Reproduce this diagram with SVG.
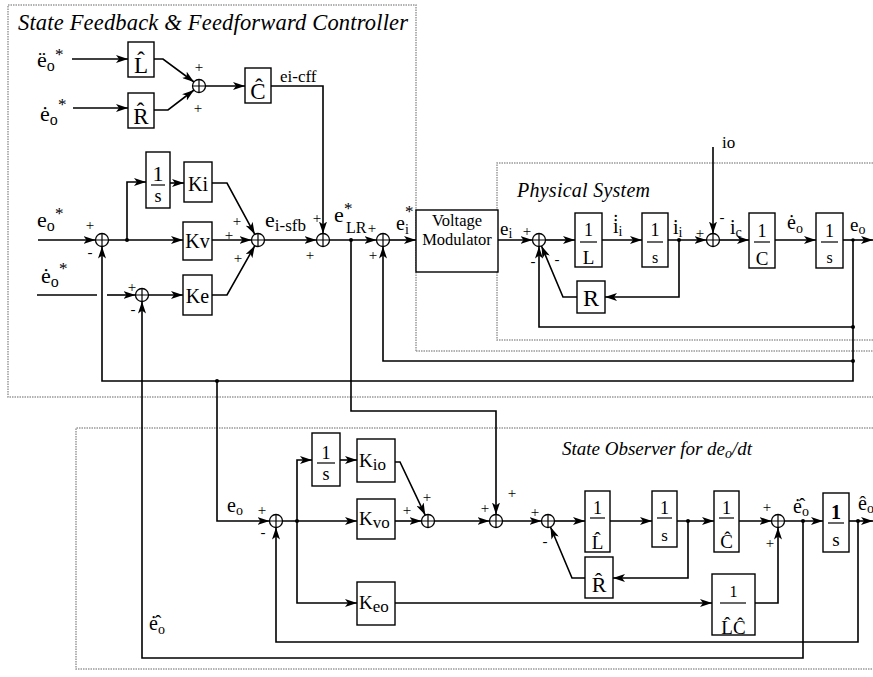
<svg xmlns="http://www.w3.org/2000/svg" width="873" height="677" viewBox="0 0 873 677">
<defs>
<marker id="ah" viewBox="0 0 12 8" refX="12" refY="4" markerWidth="12" markerHeight="8" markerUnits="userSpaceOnUse" orient="auto"><path d="M0,0 L12,4 L0,8 L3,4 z" fill="#000"/></marker>
</defs>
<style>
.t{font-family:"Liberation Serif","Times New Roman",serif;fill:#000}
.it{font-style:italic}
.m{text-anchor:middle}
.ln{fill:none;stroke:#000;stroke-width:1.6}
.ar{marker-end:url(#ah)}
.bx{fill:#fff;stroke:#000;stroke-width:1.4}
.sj circle{fill:#fff;stroke:#000;stroke-width:1.3}
.sj path{stroke:#000;stroke-width:1.2;fill:none}
.fr{fill:none;stroke:#999;stroke-width:1.5;stroke-dasharray:1.5 1}
.dt{fill:#000}
.pm{font-family:"Liberation Serif",serif;font-size:15px;text-anchor:middle;fill:#000}
.fb{stroke:#000;stroke-width:1.2}
</style>
<rect width="873" height="677" fill="#fff"/>

<g id="frames">
<path class="fr" d="M416,351 V5 H8 V397 H873 M416,351 H873"/>
<path class="fr" d="M873,163 H497 V340 H873"/>
<path class="fr" d="M873,428 H76 V669 H873"/>
<text class="t it" x="18" y="30" font-size="22.5" textLength="390">State Feedback &amp; Feedforward Controller</text>
<text class="t it" x="517" y="197" font-size="20" textLength="133">Physical System</text>
<text class="t it" x="562" y="455" font-size="19">State Observer for de<tspan font-size="14" dy="3">o</tspan><tspan dy="-3">/dt</tspan></text>
</g>

<g id="connectors" class="ln">
<path class="ar" d="M72,59 H128"/>
<path class="ar" d="M73,108 H128"/>
<path class="ar" d="M154,59 H163 L194,82"/>
<path class="ar" d="M154,110 H168 L194,90"/>
<path class="ar" d="M205.5,86 H245"/>
<path class="ar" d="M271,86 H323 V233.5"/>
<path class="ar" d="M38,240 H95.5"/>
<path class="ar" d="M108.5,240 H183"/>
<path class="ar" d="M127,240 V182 H146"/>
<path class="ar" d="M170,183 H184"/>
<path class="ar" d="M212,183 H227 L254.8,234.3"/>
<path class="ar" d="M212,240 H251.5"/>
<path class="ar" d="M212,295 H227 L254.8,245.7"/>
<path d="M37,295 H97"/>
<path class="ar" d="M107,295 H135.5"/>
<path class="ar" d="M148.5,295 H183"/>
<path class="ar" d="M264.5,240 H316.5"/>
<path class="ar" d="M329.5,240 H376.5"/>
<path class="ar" d="M389.5,240 H416"/>
<path class="ar" d="M498,240 H532.5"/>
<path class="ar" d="M545.5,240 H575"/>
<path class="ar" d="M602,240 H642"/>
<path class="ar" d="M668,240 H706.5"/>
<path class="ar" d="M679,240 V297 H605"/>
<path class="ar" d="M577,297 H563 L541.5,246"/>
<path class="ar" d="M713,147 V233.5"/>
<path class="ar" d="M719.5,240 H749"/>
<path class="ar" d="M775,240 H816"/>
<path class="ar" d="M843,240 H873"/>
<path class="ar" d="M853,240 V381 H102 V246.5"/>
<path class="ar" d="M853,327 H539 V246.5"/>
<path class="ar" d="M853,361 H383 V246.5"/>
<path class="ar" d="M217,381 V521 H269.5"/>
<path class="ar" d="M351,240 V411 H496 V514.5"/>
<path class="ar" d="M803,521 V658 H142 V301.5"/>
<path class="ar" d="M282.5,521 H357"/>
<path class="ar" d="M297,521 V460 H312"/>
<path class="ar" d="M297,521 V603 H357"/>
<path class="ar" d="M340,460 H357"/>
<path class="ar" d="M395,462 H400 L425.2,515.1"/>
<path class="ar" d="M395,521 H421.5"/>
<path class="ar" d="M434.5,521 H489.5"/>
<path class="ar" d="M502.5,521 H541.5"/>
<path class="ar" d="M554.5,521 H585"/>
<path class="ar" d="M610,521 H652"/>
<path class="ar" d="M677,521 H714"/>
<path class="ar" d="M688,521 V578 H613"/>
<path class="ar" d="M585,578 H572 L550.5,527"/>
<path class="ar" d="M739,521 H771.5"/>
<path class="ar" d="M395,603 H712"/>
<path class="ar" d="M755,603 H778 V527.5"/>
<path class="ar" d="M784.5,521 H823"/>
<path class="ar" d="M849,521 H873"/>
<path class="ar" d="M858,521 V642 H276 V527.5"/>
</g>

<g id="junction-dots" class="dt">
<circle cx="127" cy="240" r="2"/><circle cx="351" cy="240" r="2"/><circle cx="679" cy="240" r="2"/>
<circle cx="853" cy="240" r="1.8"/><circle cx="853" cy="327" r="2"/><circle cx="853" cy="361" r="2"/>
<circle cx="217" cy="381" r="2"/><circle cx="297" cy="521" r="2"/><circle cx="688" cy="521" r="2"/>
<circle cx="803" cy="521" r="2"/><circle cx="858" cy="521" r="2"/>
</g>

<!-- Controller -->
<g id="in-eddot"><text class="t" x="37" y="67" font-size="22">ë<tspan font-size="16" y="71">o</tspan><tspan font-size="17" x="55" y="60">*</tspan></text></g>
<g id="in-edot1"><text class="t" x="40" y="121" font-size="22">ė<tspan font-size="16" y="125">o</tspan><tspan font-size="17" x="58" y="110">*</tspan></text></g>
<g id="box-Lhat"><rect class="bx" x="128" y="42" width="26" height="35"/><text class="t m" x="141" y="73" font-size="23">L̂</text></g>
<g id="box-Rhat"><rect class="bx" x="128" y="93" width="26" height="35"/><text class="t m" x="141" y="124" font-size="23">R̂</text></g>
<g id="sum-ff" class="sj"><circle cx="199" cy="86" r="6.5"/><path d="M192.5,86 H205.5 M199,79.5 V92.5"/><text class="pm" x="199" y="72">+</text><text class="pm" x="198" y="113">+</text></g>
<g id="box-Chat"><rect class="bx" x="245" y="68" width="26" height="35"/><text class="t m" x="258" y="99" font-size="23">Ĉ</text></g>
<g id="lbl-eicff"><text class="t" x="280" y="82" font-size="17">ei-cff</text></g>

<g id="in-eo"><text class="t" x="37" y="227" font-size="22">e<tspan font-size="16" y="231">o</tspan><tspan font-size="17" x="55" y="219">*</tspan></text></g>
<g id="sum-A" class="sj"><circle cx="102" cy="240" r="6.5"/><path d="M95.5,240 H108.5 M102,233.5 V246.5"/><text class="pm" x="90" y="230">+</text><text class="pm" x="90" y="257">-</text></g>
<g id="box-int1"><rect class="bx" x="146" y="152" width="24" height="56"/><text class="t m" x="158" y="181" font-size="22">1</text><path class="fb" d="M151,185 H165"/><text class="t m" x="158" y="202" font-size="18">s</text></g>
<g id="box-Ki"><rect class="bx" x="184" y="162" width="28" height="40"/><text class="t m" x="198" y="191" font-size="20">Ki</text></g>
<g id="box-Kv"><rect class="bx" x="183" y="222" width="29" height="38"/><text class="t m" x="197.5" y="248" font-size="20">Kv</text></g>
<g id="box-Ke"><rect class="bx" x="183" y="275" width="29" height="40"/><text class="t m" x="197.5" y="303" font-size="20">Ke</text></g>
<g id="in-edot2"><text class="t" x="41" y="283" font-size="22">ė<tspan font-size="16" y="287">o</tspan><tspan font-size="17" x="59" y="274">*</tspan></text></g>
<g id="sum-B" class="sj"><circle cx="142" cy="295" r="6.5"/><path d="M135.5,295 H148.5 M142,288.5 V301.5"/><text class="pm" x="132" y="292">+</text><text class="pm" x="133" y="314">-</text></g>
<g id="sum-sfb" class="sj"><circle cx="258" cy="240" r="6.5"/><path d="M251.5,240 H264.5 M258,233.5 V246.5"/><text class="pm" x="237" y="226">+</text><text class="pm" x="229" y="240">+</text><text class="pm" x="238" y="263">+</text></g>
<g id="lbl-eisfb"><text class="t" x="265" y="227" font-size="22">e<tspan font-size="17" y="231">i-sfb</tspan></text></g>
<g id="sum-C" class="sj"><circle cx="323" cy="240" r="6.5"/><path d="M316.5,240 H329.5 M323,233.5 V246.5"/><text class="pm" x="317" y="223">+</text><text class="pm" x="310" y="260">+</text></g>
<g id="lbl-eLR"><text class="t" x="334" y="222" font-size="22">e<tspan font-size="17" x="344" y="214">*</tspan><tspan font-size="16" x="346" y="233">LR</tspan></text></g>
<g id="sum-D" class="sj"><circle cx="383" cy="240" r="6.5"/><path d="M376.5,240 H389.5 M383,233.5 V246.5"/><text class="pm" x="372" y="233">+</text><text class="pm" x="373" y="260">+</text></g>
<g id="lbl-ei-star"><text class="t" x="396" y="230" font-size="20">e<tspan font-size="14" y="234">i</tspan><tspan font-size="17" x="405" y="217">*</tspan></text></g>
<g id="box-vm"><rect class="bx" x="416" y="210" width="82" height="62"/><text class="t m" x="457" y="226" font-size="16.5">Voltage</text><text class="t m" x="457" y="245" font-size="16.5">Modulator</text></g>

<!-- Physical -->
<g id="lbl-ei"><text class="t" x="500" y="235" font-size="19">e<tspan font-size="14" y="238">i</tspan></text></g>
<g id="sum-P1" class="sj"><circle cx="539" cy="240" r="6.5"/><path d="M532.5,240 H545.5 M539,233.5 V246.5"/><text class="pm" x="527" y="236">+</text><text class="pm" x="533" y="266">-</text><text class="pm" x="557" y="264">-</text></g>
<g id="box-1L"><rect class="bx" x="575" y="213" width="27" height="54"/><text class="t m" x="588.5" y="236" font-size="18">1</text><path class="fb" d="M580,242 H597"/><text class="t m" x="588.5" y="264" font-size="19">L</text></g>
<g id="lbl-iidot"><text class="t" x="613" y="233" font-size="20">i̇<tspan font-size="14" y="236">i</tspan></text></g>
<g id="box-1s-a"><rect class="bx" x="642" y="213" width="26" height="54"/><text class="t m" x="655" y="236" font-size="18">1</text><path class="fb" d="M647,242 H663"/><text class="t m" x="655" y="263" font-size="16">s</text></g>
<g id="lbl-ii"><text class="t" x="673" y="234" font-size="20">i<tspan font-size="14" y="237">i</tspan></text></g>
<g id="box-R"><rect class="bx" x="577" y="281" width="28" height="32"/><text class="t m" x="591" y="306" font-size="24">R</text></g>
<g id="lbl-io"><text class="t" x="722" y="148" font-size="17">io</text></g>
<g id="sum-P2" class="sj"><circle cx="713" cy="240" r="6.5"/><path d="M706.5,240 H719.5 M713,233.5 V246.5"/><text class="pm" x="700" y="238">+</text><text class="pm" x="722" y="222">-</text></g>
<g id="lbl-ic"><text class="t" x="730" y="234" font-size="20">i<tspan font-size="14" y="237">c</tspan></text></g>
<g id="box-1C"><rect class="bx" x="749" y="213" width="26" height="55"/><text class="t m" x="762" y="237" font-size="18">1</text><path class="fb" d="M754,242 H770"/><text class="t m" x="762" y="265" font-size="19">C</text></g>
<g id="lbl-eodot"><text class="t" x="787" y="229" font-size="20">ė<tspan font-size="14" y="233">o</tspan></text></g>
<g id="box-1s-b"><rect class="bx" x="816" y="213" width="27" height="55"/><text class="t m" x="829.5" y="237" font-size="18">1</text><path class="fb" d="M821,242 H838"/><text class="t m" x="829.5" y="263" font-size="16">s</text></g>
<g id="lbl-eo-out"><text class="t" x="850" y="231" font-size="19">e<tspan font-size="14" y="234">o</tspan></text></g>

<!-- Observer -->
<g id="lbl-eo-obs"><text class="t" x="227" y="512" font-size="20">e<tspan font-size="14" y="515">o</tspan></text></g>
<g id="sum-O1" class="sj"><circle cx="276" cy="521" r="6.5"/><path d="M269.5,521 H282.5 M276,514.5 V527.5"/><text class="pm" x="262" y="515">+</text><text class="pm" x="263" y="537">-</text></g>
<g id="box-1s-o"><rect class="bx" x="312" y="433" width="28" height="53"/><text class="t m" x="326" y="459" font-size="18">1</text><path class="fb" d="M317,463 H335"/><text class="t m" x="326" y="480" font-size="18">s</text></g>
<g id="box-Kio"><rect class="bx" x="357" y="439" width="38" height="43"/><text class="t" x="359" y="467" font-size="19">K<tspan font-size="17" dy="3">io</tspan></text></g>
<g id="box-Kvo"><rect class="bx" x="357" y="499" width="38" height="40"/><text class="t" x="359" y="525" font-size="19">K<tspan font-size="17" dy="3">vo</tspan></text></g>
<g id="box-Keo"><rect class="bx" x="357" y="582" width="38" height="43"/><text class="t" x="359" y="609" font-size="19">K<tspan font-size="17" dy="3">eo</tspan></text></g>
<g id="sum-O3" class="sj"><circle cx="428" cy="521" r="6.5"/><path d="M421.5,521 H434.5 M428,514.5 V527.5"/><text class="pm" x="427" y="502">+</text><text class="pm" x="407" y="515">+</text></g>
<g id="sum-O4" class="sj"><circle cx="496" cy="521" r="6.5"/><path d="M489.5,521 H502.5 M496,514.5 V527.5"/><text class="pm" x="485" y="513">+</text><text class="pm" x="512" y="498">+</text></g>
<g id="sum-O5" class="sj"><circle cx="548" cy="521" r="6.5"/><path d="M541.5,521 H554.5 M548,514.5 V527.5"/><text class="pm" x="535" y="517">+</text><text class="pm" x="545" y="546">-</text></g>
<g id="box-1Lhat"><rect class="bx" x="585" y="491" width="25" height="61"/><text class="t m" x="597.5" y="514" font-size="18">1</text><path class="fb" d="M590,518 H605"/><text class="t m" x="597.5" y="549" font-size="19">L̂</text></g>
<g id="box-1s-o2"><rect class="bx" x="652" y="491" width="25" height="56"/><text class="t m" x="664.5" y="514" font-size="18">1</text><path class="fb" d="M657,518 H672"/><text class="t m" x="664.5" y="541" font-size="17">s</text></g>
<g id="box-1Chat"><rect class="bx" x="714" y="491" width="25" height="61"/><text class="t m" x="726.5" y="514" font-size="18">1</text><path class="fb" d="M719,518 H734"/><text class="t m" x="726.5" y="548" font-size="19">Ĉ</text></g>
<g id="box-Rhat-o"><rect class="bx" x="585" y="557" width="28" height="41"/><text class="t m" x="599" y="592" font-size="22">R̂</text></g>
<g id="box-1LChat"><rect class="bx" x="712" y="574" width="43" height="61"/><text class="t m" x="733.5" y="597" font-size="16">1</text><path class="fb" d="M720,603 H746"/><text class="t m" x="733.5" y="634" font-size="19">L̂Ĉ</text></g>
<g id="sum-O6" class="sj"><circle cx="778" cy="521" r="6.5"/><path d="M771.5,521 H784.5 M778,514.5 V527.5"/><text class="pm" x="767" y="512">+</text><text class="pm" x="770" y="548">+</text></g>
<g id="lbl-eodothat"><text class="t" x="793" y="513" font-size="20">ė̂<tspan font-size="14" y="516">o</tspan></text></g>
<g id="box-1s-o3"><rect class="bx" x="823" y="493" width="26" height="59"/><text class="t m" x="836" y="519" font-size="20" font-weight="bold">1</text><path class="fb" d="M828,523 H844"/><text class="t m" x="836" y="546" font-size="19">s</text></g>
<g id="lbl-eohat"><text class="t" x="858" y="510" font-size="20">ê<tspan font-size="14" y="513">o</tspan></text></g>
<g id="lbl-eodothat-fb"><text class="t" x="149" y="630" font-size="20">ė̂<tspan font-size="14" y="634">o</tspan></text></g>
</svg>
